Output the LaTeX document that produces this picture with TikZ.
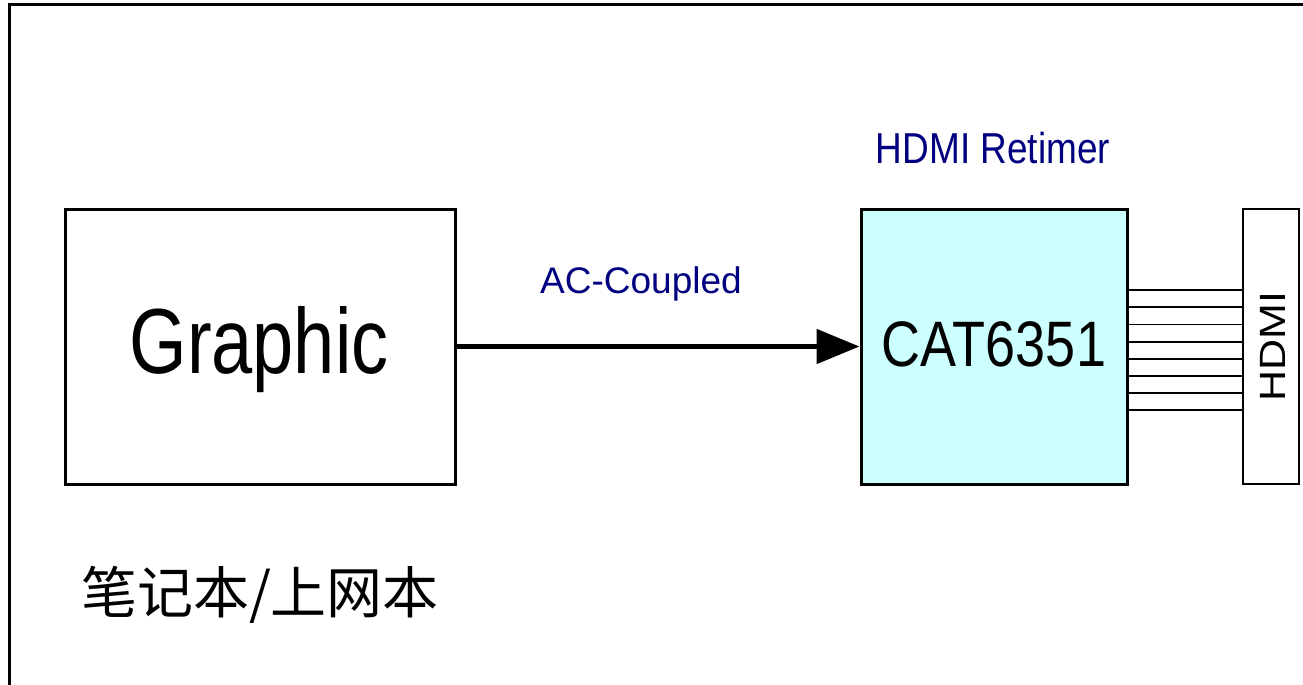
\documentclass[tikz,border=0pt]{standalone}
\usepackage{fontspec}
\setmainfont{Liberation Sans}
\newfontfamily\cjk{Noto Sans CJK SC}
\usetikzlibrary{arrows.meta}
\definecolor{chipfill}{RGB}{204,255,255}
\definecolor{labelblue}{RGB}{0,0,128}
\tikzset{
  blockbox/.style={draw=black, line width=1.5pt, minimum width=#1, minimum height=137.5pt, inner sep=0pt},
  blockbox/.default=195pt,
  wire/.style={draw=black, line width=0.9pt},
  bluelabel/.style={text=labelblue, inner sep=0pt, anchor=base},
}
\begin{document}
\begin{tikzpicture}[x=0.5pt,y=-0.5pt]
\useasboundingbox (0,0) rectangle (1303,685);
\fill[white] (0,0) rectangle (1303,685);
% outer frame (right and bottom edges outside the picture)
\draw[line width=1.5pt] (9,690) -- (9,4) -- (1310,4);

\node[blockbox=195pt] (graphic) at (260,346.5) {};
\node[blockbox=133pt, fill=chipfill] (cat) at (994,346.5) {};
\node[draw=black, line width=0.75pt, minimum width=28pt, minimum height=137.5pt, inner sep=0pt] (hdmi) at (1271,346.5) {};

\node[anchor=base, inner sep=0pt] (graphictext) at (259,373) {\scalebox{1}[1.25]{\fontsize{37}{40}\selectfont Graphic}};
\node[anchor=base, inner sep=0pt] (cattext) at (994,366) {\scalebox{1}[1.19]{\fontsize{27}{30}\selectfont CAT6351}};
\node[anchor=base, inner sep=0pt, rotate=90] (hdmitext) at (1285,346.5) {\scalebox{1}[0.85]{\fontsize{21.5}{24}\selectfont HDMI}};

\node[bluelabel] (retimer) at (993,163) {\scalebox{1}[1.17]{\fontsize{18.5}{21}\selectfont HDMI Retimer}};
\node[bluelabel] (ac) at (641,293) {\fontsize{18.5}{21}\selectfont AC-Coupled};

\node[inner sep=0pt] (cn) at (260,595) {\fontsize{28}{32}\cjk 笔记本/上网本};

\draw[line width=2.5pt, -{Triangle[length=21.5pt, width=17pt]}] (graphic.east) -- (cat.west);

\foreach \yy in {290,307.3,324.4,341.6,358.7,375.9,393,410.1}{
  \draw[wire] (cat.east |- 0,\yy) -- (hdmi.west |- 0,\yy);
}
\end{tikzpicture}
\end{document}
